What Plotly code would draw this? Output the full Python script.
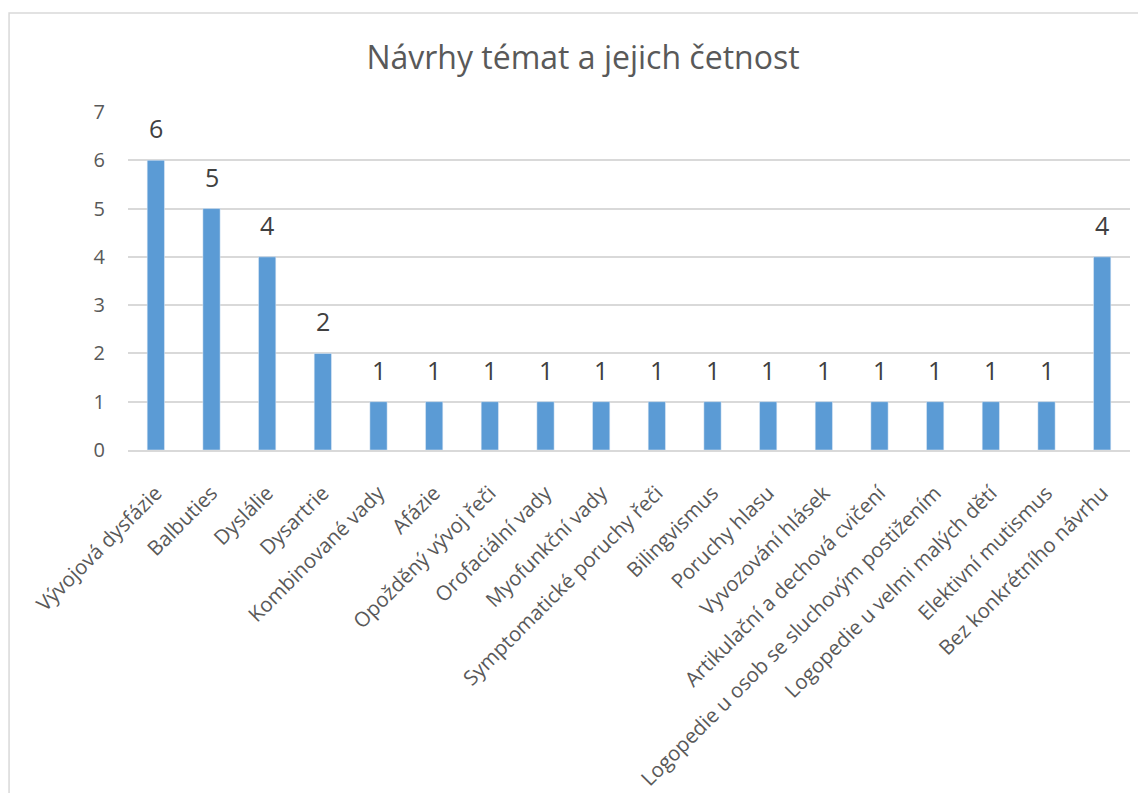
import plotly.graph_objects as go

categories = [
    "Vývojová dysfázie", "Balbuties", "Dyslálie", "Dysartrie", "Kombinované vady",
    "Afázie", "Opožděný vývoj řeči", "Orofaciální vady", "Myofunkční vady",
    "Symptomatické poruchy řeči", "Bilingvismus", "Poruchy hlasu", "Vyvozování hlásek",
    "Artikulační a dechová cvičení", "Logopedie u osob se sluchovým postižením",
    "Logopedie u velmi malých dětí", "Elektivní mutismus", "Bez konkrétního návrhu",
]
counts = [6, 5, 4, 2, 1, 1, 1, 1, 1, 1, 1, 1, 1, 1, 1, 1, 1, 4]
y_ticks = [0, 1, 2, 3, 4, 5, 6, 7]

# the page adds an 8px body margin, so the figure is sized to fit after it
OFF = 8
W, H = 1146 - OFF, 793 - OFF
L, R, T, B = 127.5 - OFF, 16, 112 - OFF, 343
pw = W - L - R
ph = H - T - B

fig = go.Figure()
fig.add_trace(go.Bar(x=categories, y=counts, marker_color="#5b9bd5"))

# value labels above the bars
for c, v in zip(categories, counts):
    fig.add_annotation(x=c, y=v, text=str(v), showarrow=False, yanchor="bottom",
                       yshift=13, font=dict(size=25, color="#404040"))

# chart-area border
fig.add_shape(type="rect", xref="paper", yref="paper",
              x0=(0.5 - L) / pw, x1=(W + 20 - L) / pw,
              y0=(ph + T - (H + 20)) / ph, y1=(ph + T - 5) / ph,
              line=dict(color="#d9d9d9", width=1.5), layer="below")

fig.update_layout(
    width=W, height=H,
    margin=dict(l=L, r=R, t=T, b=B, autoexpand=False),
    paper_bgcolor="white", plot_bgcolor="white",
    font=dict(family="Open Sans", color="#595959"),
    title=dict(text="Návrhy témat a jejich četnost", x=(583 - OFF) / W, xref="container",
               xanchor="center", y=1 - (58 - OFF) / H, yanchor="middle",
               font=dict(size=32, color="#595959")),
    bargap=0.69,
    showlegend=False,
)
fig.update_xaxes(tickangle=-45, tickfont=dict(size=20.5, color="#595959"),
                 showline=True, linecolor="#d9d9d9", linewidth=2, ticks="",
                 ticklabelstandoff=21, automargin=False)
fig.update_yaxes(range=[0, 7], tickvals=y_ticks, tickfont=dict(size=20, color="#595959"),
                 gridcolor="#d9d9d9", gridwidth=2, zeroline=False, ticks="",
                 ticklabelstandoff=22, automargin=False)

fig.write_html("out.html")
